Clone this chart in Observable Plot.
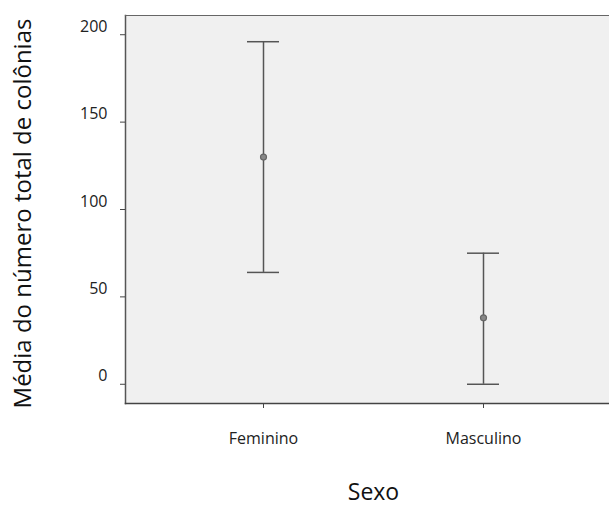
<!DOCTYPE html>
<html>
<head>
<meta charset="utf-8">
<script src="https://cdn.jsdelivr.net/npm/d3@7"></script>
<script src="https://cdn.jsdelivr.net/npm/@observablehq/plot@0.6"></script>
<style>
  html, body { margin: 0; padding: 0; background: white; }
</style>
</head>
<body>
<div id="chart"></div>
<script>
// Data
const categories = ["Feminino", "Masculino"];
const means = [130, 38];
const lower = [64, 0];
const upper = [196, 75];
const yTicks = [0, 50, 100, 150, 200];
const yTitle = "Média do número total de colônias";
const xTitle = "Sexo";

const data = categories.map((c, i) => ({sexo: c, mean: means[i], lo: lower[i], hi: upper[i]}));

const chart = Plot.plot({
  width: 609,
  height: 505,
  marginTop: 15,
  marginBottom: 102,
  marginLeft: 125,
  marginRight: 0,
  style: {fontFamily: "'Open Sans', sans-serif", background: "white", color: "#222"},
  x: {type: "band", domain: categories, range: [246, 499], paddingInner: 0.855, paddingOuter: 0},
  y: {domain: [-11, 211]},
  marks: [
    Plot.frame({fill: "#f0f0f0", stroke: null}),
    Plot.frame({anchor: "left", stroke: "#555", strokeWidth: 1.5}),
    Plot.frame({anchor: "top", stroke: "#666", strokeWidth: 1.2}),
    Plot.frame({anchor: "bottom", stroke: "#444", strokeWidth: 1.5}),
    Plot.axisY({ticks: yTicks, tickSize: 5, tickFormat: () => "", label: null, stroke: "#444"}),
    Plot.axisY({ticks: yTicks, tickSize: 0, tickPadding: 18, fontSize: 16, dy: -8, label: null}),
    Plot.axisX({tickSize: 5, tickPadding: 24, fontSize: 16, label: null, stroke: "#444"}),
    Plot.ruleX(data, {x: "sexo", y1: "lo", y2: "hi", stroke: "#555", strokeWidth: 1.5}),
    Plot.tickY(data, {x: "sexo", y: "hi", stroke: "#555", strokeWidth: 1.5}),
    Plot.tickY(data, {x: "sexo", y: "lo", stroke: "#555", strokeWidth: 1.5}),
    Plot.dot(data, {x: "sexo", y: "mean", r: 3, stroke: "#666", fill: "#888", strokeWidth: 1.2}),
    Plot.text([yTitle], {frameAnchor: "left", textAnchor: "middle", dx: -102, dy: 4, rotate: -90, fontSize: 24, fill: "#111"}),
    Plot.text([xTitle], {frameAnchor: "bottom", dx: 6, dy: 96, fontSize: 23, fill: "#111"})
  ]
});
document.getElementById("chart").appendChild(chart);
</script>
</body>
</html>
